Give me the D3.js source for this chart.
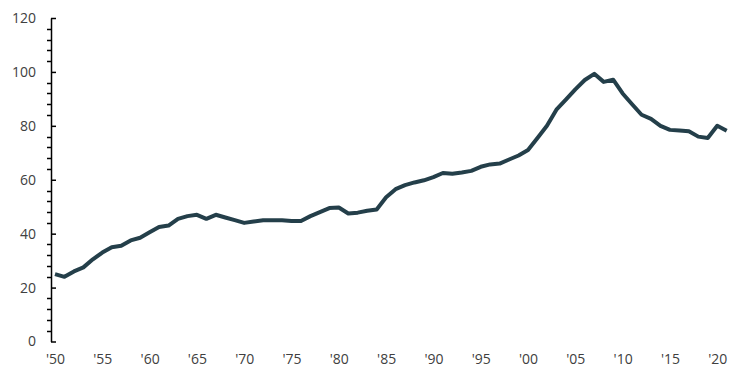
<!DOCTYPE html>
<html>
<head>
<meta charset="utf-8">
<script src="https://cdn.jsdelivr.net/npm/d3@7"></script>
<style>
	body { margin: 0; background: #fff; }
	svg { display: block; }
</style>
</head>
<body>
<script>
	// data
	var years = d3.range(1950, 2022);
	var values = [
		25, 24, 26, 27.5, 30.5, 33, 35, 35.5, 37.5, 38.5,
		40.5, 42.5, 43, 45.5, 46.5, 47, 45.5, 47, 46, 45,
		44, 44.5, 45, 45, 45, 44.7, 44.7, 46.5, 48, 49.5,
		49.7, 47.5, 47.8, 48.5, 49, 53.5, 56.5, 58, 59, 59.8,
		61, 62.5, 62.2, 62.7, 63.3, 64.8, 65.7, 66, 67.5, 69,
		71, 75.5, 80, 86, 89.7, 93.5, 97, 99.3, 96.3, 97.1,
		92, 88, 84.1, 82.6, 80, 78.5, 78.3, 78, 76, 75.5,
		80, 78.2
	];
	var yTicks = [0, 20, 40, 60, 80, 100, 120];
	var xTicks = [1950, 1955, 1960, 1965, 1970, 1975, 1980, 1985, 1990, 1995, 2000, 2005, 2010, 2015, 2020];

	var width = 750,
		height = 383;
	var lineColor = "#243f4a",
		textColor = "#404040";

	var svg = d3.select("body").append("svg")
		.attr("width", width)
		.attr("height", height);

	var x = d3.scaleLinear().domain([1950, 2021]).range([55, 726.7]);
	var y = d3.scaleLinear().domain([0, 120]).range([341.5, 18]);
	var axisX = 51;

	// minor ticks every 4 units, on the left of the axis
	var minor = d3.range(0, 121, 4).filter(function(d) { return d % 20 !== 0; });
	svg.append("g").selectAll("line")
		.data(minor)
		.enter().append("line")
			.attr("x1", axisX - 4)
			.attr("x2", axisX)
			.attr("y1", function(d) { return Math.round(y(d)) + 0.5; })
			.attr("y2", function(d) { return Math.round(y(d)) + 0.5; })
			.style("stroke", "#000")
			.style("stroke-width", 1.5);

	var yAxis = svg.append("g")
		.attr("transform", "translate(" + axisX + ",0)")
		.call(d3.axisLeft(y).tickValues(yTicks).tickSize(6).tickPadding(9).tickSizeOuter(0));
	yAxis.select(".domain")
		.style("stroke", "#000")
		.style("stroke-width", 1.5);
	yAxis.selectAll(".tick line")
		.attr("x2", 5)
		.style("stroke", "#000")
		.style("stroke-width", 1.5);
	yAxis.selectAll(".tick text")
		.style("font-family", "'Open Sans', sans-serif")
		.style("font-size", "14px")
		.style("fill", textColor);

	var xAxis = svg.append("g")
		.attr("transform", "translate(0,350)")
		.call(d3.axisBottom(x).tickValues(xTicks).tickSize(0).tickPadding(4)
			.tickFormat(function(d) { return "'" + String(d).slice(2); }));
	xAxis.select(".domain").remove();
	xAxis.selectAll(".tick text")
		.style("font-family", "'Open Sans', sans-serif")
		.style("font-size", "14px")
		.style("fill", textColor);

	var line = d3.line()
		.x(function(d, i) { return x(years[i]); })
		.y(function(d) { return y(d); });

	svg.append("path")
		.datum(values)
		.attr("d", line)
		.style("fill", "none")
		.style("stroke", lineColor)
		.style("stroke-width", 4)
		.style("stroke-linejoin", "round");
</script>
</body>
</html>
